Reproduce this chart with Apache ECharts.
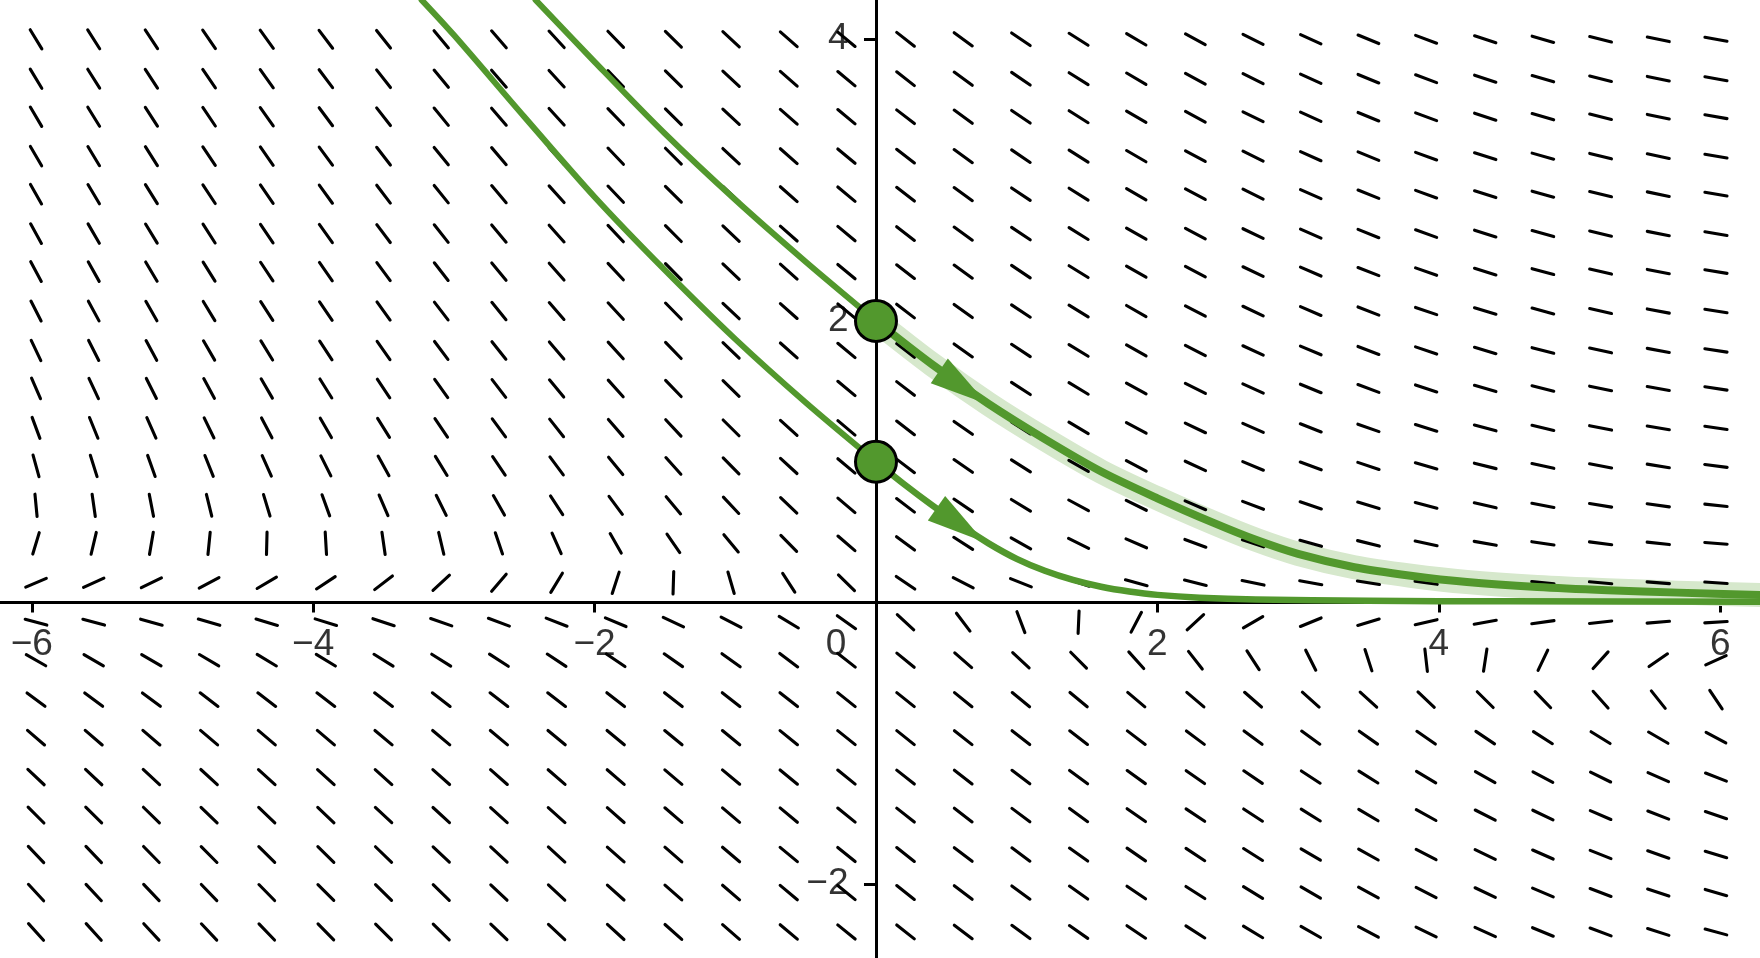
<!DOCTYPE html>
<html>
<head>
<meta charset="utf-8">
<script src="https://cdn.jsdelivr.net/npm/echarts@6/dist/echarts.min.js"></script>
<style>
html,body{margin:0;padding:0;background:#ffffff;}
#chart{width:1760px;height:958px;}
</style>
</head>
<body>
<div id="chart"></div>
<script>
// ---- view window ----
const xMin = -6.226, xMax = 6.283;
const yMin = -2.525, yMax = 4.279;

// ---- axis ticks / labels ----
const xTickValues = [-6, -4, -2, 2, 4, 6];
const xLabelValues = [-6, -4, -2, 0, 2, 4, 6];
const xLabelTexts = ['\u22126', '\u22124', '\u22122', '0', '2', '4', '6'];
const yTickValues = [-2, 2, 4];
const yLabelValues = [-2, 2, 4];
const yLabelTexts = ['\u22122', '2', '4'];

// ---- slope field grid ----
const fieldX = [-5.97,-5.56,-5.15,-4.74,-4.33,-3.91,-3.50,-3.09,-2.68,-2.27,-1.85,-1.44,-1.03,-0.62,-0.21,0.21,0.62,1.03,1.44,1.85,2.27,2.68,3.09,3.50,3.91,4.33,4.74,5.15,5.56,5.97];
const fieldY = [4.00,3.72,3.45,3.17,2.90,2.62,2.35,2.07,1.79,1.52,1.24,0.97,0.69,0.42,0.14,-0.14,-0.41,-0.69,-0.96,-1.24,-1.51,-1.79,-2.06,-2.34];
const fieldSlope = [
[-1.64,-1.58,-1.51,-1.45,-1.38,-1.32,-1.26,-1.20,-1.15,-1.09,-1.03,-0.98,-0.93,-0.88,-0.83,-0.78,-0.73,-0.68,-0.63,-0.59,-0.54,-0.50,-0.46,-0.41,-0.37,-0.33,-0.29,-0.25,-0.21,-0.18],
[-1.66,-1.59,-1.53,-1.46,-1.40,-1.33,-1.27,-1.21,-1.15,-1.09,-1.04,-0.98,-0.93,-0.88,-0.83,-0.78,-0.73,-0.68,-0.63,-0.59,-0.54,-0.50,-0.45,-0.41,-0.37,-0.33,-0.29,-0.25,-0.21,-0.18],
[-1.69,-1.62,-1.55,-1.48,-1.41,-1.34,-1.28,-1.22,-1.16,-1.10,-1.04,-0.99,-0.93,-0.88,-0.83,-0.77,-0.73,-0.68,-0.63,-0.58,-0.54,-0.49,-0.45,-0.41,-0.37,-0.33,-0.29,-0.25,-0.21,-0.17],
[-1.72,-1.65,-1.57,-1.50,-1.43,-1.36,-1.29,-1.23,-1.17,-1.11,-1.05,-0.99,-0.93,-0.88,-0.83,-0.77,-0.72,-0.68,-0.63,-0.58,-0.54,-0.49,-0.45,-0.41,-0.36,-0.32,-0.28,-0.25,-0.21,-0.17],
[-1.76,-1.68,-1.60,-1.52,-1.45,-1.38,-1.31,-1.24,-1.18,-1.11,-1.05,-0.99,-0.94,-0.88,-0.83,-0.77,-0.72,-0.67,-0.63,-0.58,-0.53,-0.49,-0.44,-0.40,-0.36,-0.32,-0.28,-0.24,-0.21,-0.17],
[-1.81,-1.72,-1.64,-1.56,-1.48,-1.40,-1.33,-1.26,-1.19,-1.12,-1.06,-1.00,-0.94,-0.88,-0.83,-0.77,-0.72,-0.67,-0.62,-0.57,-0.53,-0.48,-0.44,-0.40,-0.36,-0.32,-0.28,-0.24,-0.20,-0.17],
[-1.87,-1.78,-1.68,-1.60,-1.51,-1.43,-1.35,-1.28,-1.21,-1.14,-1.07,-1.01,-0.94,-0.89,-0.83,-0.77,-0.72,-0.67,-0.62,-0.57,-0.52,-0.48,-0.43,-0.39,-0.35,-0.31,-0.27,-0.23,-0.20,-0.16],
[-1.96,-1.85,-1.75,-1.65,-1.56,-1.47,-1.38,-1.30,-1.23,-1.15,-1.08,-1.02,-0.95,-0.89,-0.83,-0.77,-0.72,-0.66,-0.61,-0.57,-0.52,-0.47,-0.43,-0.39,-0.34,-0.30,-0.27,-0.23,-0.19,-0.16],
[-2.10,-1.97,-1.85,-1.73,-1.63,-1.52,-1.43,-1.34,-1.26,-1.18,-1.10,-1.03,-0.96,-0.89,-0.83,-0.77,-0.71,-0.66,-0.61,-0.56,-0.51,-0.46,-0.42,-0.38,-0.34,-0.30,-0.26,-0.22,-0.19,-0.15],
[-2.30,-2.14,-1.99,-1.85,-1.72,-1.60,-1.49,-1.39,-1.30,-1.21,-1.12,-1.04,-0.97,-0.90,-0.83,-0.77,-0.71,-0.65,-0.60,-0.55,-0.50,-0.45,-0.41,-0.37,-0.33,-0.29,-0.25,-0.21,-0.18,-0.15],
[-2.69,-2.46,-2.25,-2.06,-1.90,-1.74,-1.60,-1.48,-1.36,-1.26,-1.16,-1.07,-0.99,-0.91,-0.84,-0.77,-0.70,-0.64,-0.59,-0.54,-0.48,-0.44,-0.39,-0.35,-0.31,-0.27,-0.24,-0.20,-0.17,-0.14],
[-3.63,-3.18,-2.80,-2.49,-2.23,-2.00,-1.80,-1.63,-1.48,-1.34,-1.22,-1.11,-1.01,-0.92,-0.84,-0.76,-0.69,-0.63,-0.57,-0.52,-0.46,-0.42,-0.37,-0.33,-0.29,-0.25,-0.22,-0.19,-0.16,-0.13],
[-10.4,-6.98,-5.18,-4.07,-3.31,-2.75,-2.33,-2.01,-1.75,-1.53,-1.35,-1.19,-1.06,-0.95,-0.85,-0.76,-0.68,-0.61,-0.54,-0.49,-0.43,-0.38,-0.34,-0.30,-0.26,-0.23,-0.19,-0.16,-0.14,-0.11],
[3.32,4.19,5.81,9.91,39.8,-17.2,-6.90,-4.20,-2.95,-2.24,-1.76,-1.44,-1.20,-1.01,-0.86,-0.74,-0.64,-0.56,-0.49,-0.43,-0.37,-0.33,-0.28,-0.25,-0.21,-0.18,-0.15,-0.13,-0.11,-0.08],
[0.43,0.46,0.49,0.53,0.59,0.66,0.77,0.92,1.17,1.65,3.06,33.0,-3.42,-1.55,-0.97,-0.68,-0.51,-0.40,-0.32,-0.27,-0.25,-0.21,-0.18,-0.16,-0.14,-0.12,-0.10,-0.09,-0.08,-0.07],
[-0.27,-0.27,-0.28,-0.29,-0.30,-0.31,-0.33,-0.35,-0.37,-0.39,-0.42,-0.47,-0.52,-0.60,-0.71,-0.92,-1.32,-2.64,23.0,1.91,0.92,0.58,0.41,0.30,0.23,0.18,0.14,0.11,0.08,0.06],
[-0.57,-0.58,-0.58,-0.59,-0.60,-0.61,-0.62,-0.63,-0.65,-0.66,-0.68,-0.70,-0.72,-0.75,-0.78,-0.82,-0.87,-0.93,-1.01,-1.12,-1.28,-1.54,-1.99,-3.08,-8.83,6.54,2.09,1.11,0.69,0.45],
[-0.75,-0.75,-0.75,-0.76,-0.76,-0.76,-0.76,-0.77,-0.77,-0.77,-0.78,-0.78,-0.79,-0.79,-0.80,-0.80,-0.81,-0.82,-0.83,-0.84,-0.85,-0.87,-0.89,-0.91,-0.94,-0.99,-1.04,-1.12,-1.26,-1.51],
[-0.86,-0.86,-0.86,-0.85,-0.85,-0.85,-0.84,-0.84,-0.84,-0.83,-0.83,-0.82,-0.82,-0.81,-0.80,-0.80,-0.79,-0.78,-0.77,-0.76,-0.75,-0.74,-0.72,-0.71,-0.69,-0.67,-0.64,-0.62,-0.58,-0.54],
[-0.94,-0.94,-0.93,-0.92,-0.91,-0.91,-0.90,-0.89,-0.88,-0.87,-0.86,-0.85,-0.83,-0.82,-0.81,-0.79,-0.78,-0.76,-0.74,-0.72,-0.70,-0.68,-0.65,-0.63,-0.60,-0.56,-0.53,-0.49,-0.44,-0.39],
[-1.00,-0.99,-0.98,-0.97,-0.96,-0.95,-0.93,-0.92,-0.91,-0.89,-0.88,-0.86,-0.85,-0.83,-0.81,-0.79,-0.77,-0.75,-0.73,-0.70,-0.67,-0.65,-0.62,-0.59,-0.55,-0.51,-0.48,-0.43,-0.39,-0.34],
[-1.05,-1.04,-1.02,-1.01,-0.99,-0.98,-0.96,-0.95,-0.93,-0.91,-0.89,-0.87,-0.85,-0.83,-0.81,-0.79,-0.76,-0.74,-0.71,-0.69,-0.66,-0.63,-0.59,-0.56,-0.52,-0.48,-0.44,-0.40,-0.35,-0.30],
[-1.08,-1.07,-1.05,-1.04,-1.02,-1.00,-0.98,-0.97,-0.95,-0.93,-0.90,-0.88,-0.86,-0.84,-0.81,-0.79,-0.76,-0.73,-0.71,-0.68,-0.64,-0.61,-0.58,-0.54,-0.51,-0.47,-0.42,-0.38,-0.33,-0.29],
[-1.11,-1.10,-1.08,-1.06,-1.04,-1.02,-1.00,-0.98,-0.96,-0.94,-0.91,-0.89,-0.87,-0.84,-0.81,-0.79,-0.76,-0.73,-0.70,-0.67,-0.64,-0.60,-0.57,-0.53,-0.49,-0.45,-0.41,-0.37,-0.32,-0.27]
];

// ---- solution curves ----
const upperLeftX  = [-2.42, -2.0, -1.5, -1.0, -0.5, 0];
const upperLeftY  = [4.28, 3.84, 3.33, 2.86, 2.42, 2.0];
const upperRightX = [0, 0.4, 0.8, 1.2, 1.6, 2.0, 2.4, 2.7, 3.0, 3.4, 3.8, 4.2, 4.7, 5.2, 5.7, 6.3];
const upperRightY = [2.0, 1.69, 1.41, 1.16, 0.93, 0.74, 0.565, 0.445, 0.345, 0.25, 0.19, 0.145, 0.11, 0.087, 0.07, 0.053];
const lowerLeftX  = [-3.23, -3.0, -2.5, -2.0, -1.5, -1.0, -0.5, 0];
const lowerLeftY  = [4.28, 4.03, 3.45, 2.88, 2.36, 1.87, 1.42, 1.0];
const lowerRightX = [0, 0.2, 0.4, 0.6, 0.8, 1.0, 1.2, 1.4, 1.6, 1.8, 2.0, 2.3, 2.7, 3.5, 4.5, 6.3];
const lowerRightY = [1.0, 0.84, 0.69, 0.55, 0.42, 0.31, 0.225, 0.16, 0.112, 0.078, 0.054, 0.034, 0.021, 0.012, 0.008, 0.006];

// initial points and arrowheads
const startX = [0, 0];
const startY = [2, 1];
const arrowBaseX = [0.45, 0.43];
const arrowBaseY = [1.645, 0.67];
const arrowTipX  = [0.79, 0.77];
const arrowTipY  = [1.41, 0.43];

// ---- styling ----
const GREEN = '#52982d';
const HALO = '#d6e8cc';
const FONT = "'Liberation Sans', Arial, Helvetica, sans-serif";

function zip(xs, ys) { return xs.map((x, i) => [x, ys[i]]); }

const segData = [];
fieldY.forEach((y, j) => {
  fieldX.forEach((x, i) => { segData.push([x, y, fieldSlope[j][i]]); });
});

const arrowData = arrowBaseX.map((bx, i) => [bx, arrowBaseY[i], arrowTipX[i], arrowTipY[i]]);

const xLabelData = xLabelValues.map((v, i) => {
  const item = { value: [v, 0], label: { formatter: xLabelTexts[i] } };
  if (v === 0) item.label.offset = [-40, 0];
  return item;
});
const yLabelData = yLabelValues.map((v, i) => ({ value: [0, v], label: { formatter: yLabelTexts[i] } }));

function renderSegment(params, api) {
  const x = api.value(0), y = api.value(1), s = api.value(2);
  const c = api.coord([x, y]);
  const p = api.coord([x + 1, y + s]);
  let dx = p[0] - c[0], dy = p[1] - c[1];
  const L = Math.hypot(dx, dy);
  dx /= L; dy /= L;
  const h = 11.2;
  return {
    type: 'line',
    shape: { x1: c[0] - dx * h, y1: c[1] - dy * h, x2: c[0] + dx * h, y2: c[1] + dy * h },
    style: { stroke: '#000', lineWidth: 3.1, lineCap: 'round' }
  };
}

function renderArrow(params, api) {
  const b = api.coord([api.value(0), api.value(1)]);
  const t = api.coord([api.value(2), api.value(3)]);
  const dx = t[0] - b[0], dy = t[1] - b[1];
  const L = Math.hypot(dx, dy);
  const nx = -dy / L, ny = dx / L, w = 15;
  return {
    type: 'polygon',
    shape: { points: [t, [b[0] + nx * w, b[1] + ny * w], [b[0] - nx * w, b[1] - ny * w]] },
    style: { fill: GREEN }
  };
}

function curve(xs, ys, width, z) {
  return {
    type: 'line', data: zip(xs, ys), symbol: 'none', smooth: 0.3, silent: true, z: z,
    lineStyle: { color: GREEN, width: width, cap: 'round', join: 'round' }
  };
}

const labelStyle = { show: true, color: '#000', fontSize: 37, fontFamily: FONT, lineHeight: 37 };

const chart = echarts.init(document.getElementById('chart'), null, { renderer: 'canvas' });
chart.setOption({
  animation: false,
  backgroundColor: '#ffffff',
  grid: { left: 0, right: 0, top: 0, bottom: 0, containLabel: false, outerBoundsMode: 'none' },
  xAxis: {
    type: 'value', min: xMin, max: xMax,
    splitLine: { show: false },
    axisLine: { show: true, onZero: true, lineStyle: { color: '#000', width: 3 } },
    axisTick: { show: true, customValues: xTickValues, length: 10, lineStyle: { color: '#000', width: 3 } },
    axisLabel: { show: false }
  },
  yAxis: {
    type: 'value', min: yMin, max: yMax,
    splitLine: { show: false },
    axisLine: { show: true, onZero: true, lineStyle: { color: '#000', width: 3 } },
    axisTick: { show: true, customValues: yTickValues, length: 12, lineStyle: { color: '#000', width: 3 } },
    axisLabel: { show: false }
  },
  series: [
    {
      type: 'line', data: zip(upperRightX, upperRightY), symbol: 'none', smooth: 0.3, silent: true, z: 1,
      lineStyle: { color: HALO, width: 24, cap: 'round', join: 'round' }
    },
    {
      type: 'custom', data: segData, renderItem: renderSegment, silent: true, z: 2,
      encode: { x: 0, y: 1 }
    },
    curve(upperLeftX, upperLeftY, 6, 3),
    curve(upperRightX, upperRightY, 8, 3),
    curve(lowerLeftX, lowerLeftY, 6, 3),
    curve(lowerRightX, lowerRightY, 6.5, 3),
    {
      type: 'custom', data: arrowData, renderItem: renderArrow, silent: true, z: 4,
      encode: { x: [0, 2], y: [1, 3] }
    },
    {
      type: 'scatter', data: zip(startX, startY), symbol: 'circle', symbolSize: 41, silent: true, z: 5,
      itemStyle: { color: GREEN, borderColor: '#000', borderWidth: 3, opacity: 1 }
    },
    {
      type: 'scatter', data: xLabelData, symbolSize: 1, silent: true, z: 6,
      itemStyle: { color: 'rgba(0,0,0,0)' },
      label: Object.assign({ position: 'bottom', distance: 23 }, labelStyle)
    },
    {
      type: 'scatter', data: yLabelData, symbolSize: 1, silent: true, z: 6,
      itemStyle: { color: 'rgba(0,0,0,0)' },
      label: Object.assign({ position: 'left', distance: 27 }, labelStyle)
    }
  ]
});
</script>
</body>
</html>
